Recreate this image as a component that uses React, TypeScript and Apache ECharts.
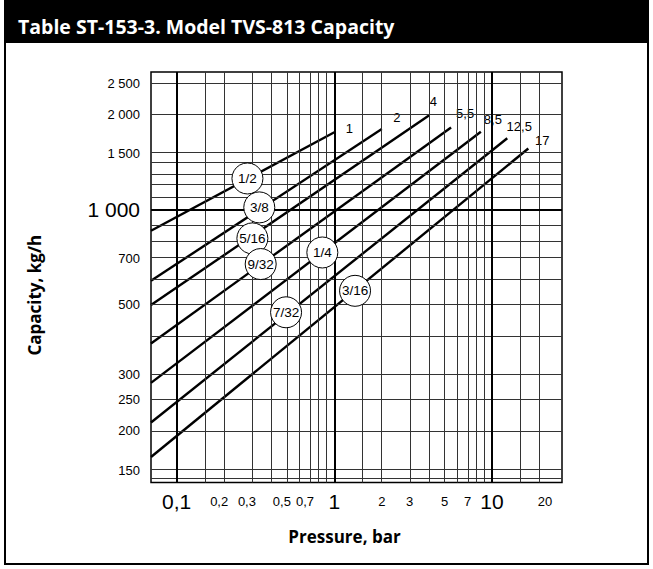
import React, { useEffect, useRef } from "react";
import * as echarts from "echarts";

// ---- data ----
const X_MIN = 0.0687; // bar, left edge of the plot
const X_MAX = 27.8; // bar, right edge of the plot
const Y_MIN = 137; // kg/h, bottom edge
const Y_MAX = 2720; // kg/h, top edge

const orifices = ["1/2", "3/8", "5/16", "9/32", "1/4", "7/32", "3/16"];
const endPressures = [1, 2, 4, 5.5, 8.5, 12.5, 17];
const endLabels = ["1", "2", "4", "5,5", "8,5", "12,5", "17"];
const capacityAtStart = [856, 595, 499, 377, 283, 212, 165];
const capacityAtEnd = [1754, 1795, 1986, 1816, 1761, 1680, 1558];
const circlePressure = [0.281, 0.334, 0.302, 0.341, 0.839, 0.494, 1.353];
const circleCapacity = [1253, 1015, 810, 672, 731, 473, 553];

const xTickValues = [0.1, 0.2, 0.3, 0.5, 0.7, 1, 2, 3, 5, 7, 10, 20];
const xTickLabels = ["0,1", "0,2", "0,3", "0,5", "0,7", "1", "2", "3", "5", "7", "10", "20"];
const xBigLabels = ["0,1", "1", "10"];
const yTickValues = [150, 200, 250, 300, 500, 700, 1000, 1500, 2000, 2500];
const yTickLabels = ["150", "200", "250", "300", "500", "700", "1 000", "1 500", "2 000", "2 500"];
const yBigLabels = ["1 000"];

const xMinorGrid = [0.15, 0.2, 0.3, 0.4, 0.5, 0.6, 0.7, 0.8, 0.9, 1.5, 2, 3, 4, 5, 6, 7, 8, 9, 15, 20];
const xMajorGrid = [0.1, 1, 10];
const yMinorGrid = [140, 150, 200, 250, 300, 400, 500, 600, 700, 800, 900, 1100, 1200, 1300, 1400, 1500, 2000, 2500];
const yMajorGrid = [1000];

// label placement (style, not data)
const endLabelOffsets = [
  [15, -4],
  [15, -12],
  [4, -14],
  [14, -14],
  [12, -12],
  [12, -12],
  [14, -8],
];

const L = Math.log10;
const NUM_FONT = "'Liberation Sans', Arial, sans-serif";
const BOLD_FONT = "'Open Sans', 'Liberation Sans', sans-serif";

function labelFor(values: number[], labels: string[], v: number) {
  let best = 0;
  let d = Infinity;
  values.forEach((t, i) => {
    const dd = Math.abs(L(t) - v);
    if (dd < d) {
      d = dd;
      best = i;
    }
  });
  return labels[best];
}

export default function App() {
  const ref = useRef<HTMLDivElement>(null);
  useEffect(() => {
    if (!ref.current) return;
    const chart = echarts.init(ref.current, undefined, { renderer: "svg" });

    const gridLines: any[] = [];
    xMinorGrid.forEach((v) => gridLines.push({ xAxis: L(v), lineStyle: { color: "#333", width: 1, type: "solid" } }));
    yMinorGrid.forEach((v) => gridLines.push({ yAxis: L(v), lineStyle: { color: "#333", width: 1, type: "solid" } }));
    xMajorGrid.forEach((v) => gridLines.push({ xAxis: L(v), lineStyle: { color: "#000", width: 2, type: "solid" } }));
    yMajorGrid.forEach((v) => gridLines.push({ yAxis: L(v), lineStyle: { color: "#000", width: 2, type: "solid" } }));

    const lineSeries = orifices.map((o, i) => ({
      type: "line",
      name: o,
      z: 3,
      symbol: "none",
      clip: true,
      lineStyle: { color: "#000", width: 2.4 },
      data: [
        [L(X_MIN), L(capacityAtStart[i])],
        [L(endPressures[i]), L(capacityAtEnd[i])],
      ],
      endLabel: {
        show: true,
        formatter: endLabels[i],
        color: "#000",
        fontSize: 13,
        fontFamily: NUM_FONT,
        backgroundColor: "#fff",
        padding: [0, 1],
        distance: 0,
        align: "center",
        verticalAlign: "middle",
        offset: endLabelOffsets[i],
      },
    }));

    const option: any = {
      animation: false,
      backgroundColor: "#fff",
      title: {
        text: "Table ST-153-3. Model TVS-813 Capacity",
        left: 13,
        top: 11,
        textStyle: { color: "#fff", fontSize: 19.5, fontWeight: "bold", fontFamily: BOLD_FONT },
      },
      graphic: [
        { type: "rect", z: 0, shape: { x: 4, y: 0, width: 645, height: 43 }, style: { fill: "#000" } },
        {
          type: "rect",
          z: 0,
          shape: { x: 5, y: 1, width: 643, height: 563 },
          style: { fill: "none", stroke: "#000", lineWidth: 2 },
        },
      ],
      grid: {
        left: 151,
        top: 72,
        width: 411,
        height: 410.5,
        show: true,
        borderColor: "#000",
        borderWidth: 1.5,
      },
      xAxis: {
        type: "value",
        min: L(X_MIN),
        max: L(X_MAX),
        name: "Pressure, bar",
        nameLocation: "middle",
        nameGap: 45,
        nameTextStyle: {
          fontSize: 17,
          fontWeight: "bold",
          color: "#000",
          fontFamily: BOLD_FONT,
          padding: [0, 24, 0, 0],
        },
        axisLine: { show: false },
        axisTick: { show: false },
        splitLine: { show: false },
        axisLabel: {
          customValues: xTickValues.map(L),
          margin: 6,
          color: "#000",
          fontFamily: NUM_FONT,
          formatter: (v: number) => {
            const s = labelFor(xTickValues, xTickLabels, v);
            if (xBigLabels.includes(s)) return "{big|" + s + "}";
            if (s.indexOf(",") >= 0) return "{dec|" + s + "}";
            if (s === "20") return "{r|" + s + "}";
            return "{sm|" + s + "}";
          },
          rich: {
            big: { fontSize: 21, lineHeight: 26, fontFamily: NUM_FONT, color: "#000", verticalAlign: "middle" },
            sm: { fontSize: 13, lineHeight: 26, fontFamily: NUM_FONT, color: "#000", verticalAlign: "middle" },
            dec: { fontSize: 13, lineHeight: 26, fontFamily: NUM_FONT, color: "#000", verticalAlign: "middle", padding: [0, 10, 0, 0] },
            r: { fontSize: 13, lineHeight: 26, fontFamily: NUM_FONT, color: "#000", verticalAlign: "middle", padding: [0, 0, 0, 11] },
          },
        },
      },
      yAxis: {
        type: "value",
        min: L(Y_MIN),
        max: L(Y_MAX),
        name: "Capacity, kg/h",
        nameLocation: "middle",
        nameRotate: 90,
        nameGap: 108,
        nameTextStyle: {
          fontSize: 17,
          fontWeight: "bold",
          color: "#000",
          fontFamily: BOLD_FONT,
          padding: [0, 36, 0, 0],
        },
        axisLine: { show: false },
        axisTick: { show: false },
        splitLine: { show: false },
        axisLabel: {
          customValues: yTickValues.map(L),
          margin: 11,
          color: "#000",
          fontFamily: NUM_FONT,
          formatter: (v: number) => {
            const s = labelFor(yTickValues, yTickLabels, v);
            return yBigLabels.includes(s) ? "{big|" + s + "}" : "{sm|" + s + "}";
          },
          rich: {
            big: { fontSize: 21, fontFamily: NUM_FONT, color: "#000" },
            sm: { fontSize: 13, fontFamily: NUM_FONT, color: "#000" },
          },
        },
      },
      series: [
        {
          type: "line",
          name: "grid",
          z: 1,
          data: [],
          silent: true,
          markLine: {
            silent: true,
            symbol: ["none", "none"],
            label: { show: false },
            animation: false,
            data: gridLines,
          },
        },
        ...lineSeries,
        {
          type: "scatter",
          name: "orifice",
          z: 5,
          symbol: "circle",
          symbolSize: 31,
          itemStyle: { color: "#fff", borderColor: "#000", borderWidth: 1, opacity: 1 },
          label: {
            show: true,
            position: "inside",
            formatter: "{b}",
            color: "#000",
            fontSize: 13.5,
            fontFamily: NUM_FONT,
          },
          data: orifices.map((o, i) => ({ name: o, value: [L(circlePressure[i]), L(circleCapacity[i])] })),
        },
      ],
    };
    chart.setOption(option);
    return () => chart.dispose();
  }, []);
  return (
    <div style={{ position: "fixed", left: 0, top: 0, width: 653, height: 569 }}>
      <div ref={ref} style={{ width: 653, height: 569 }} />
    </div>
  );
}
